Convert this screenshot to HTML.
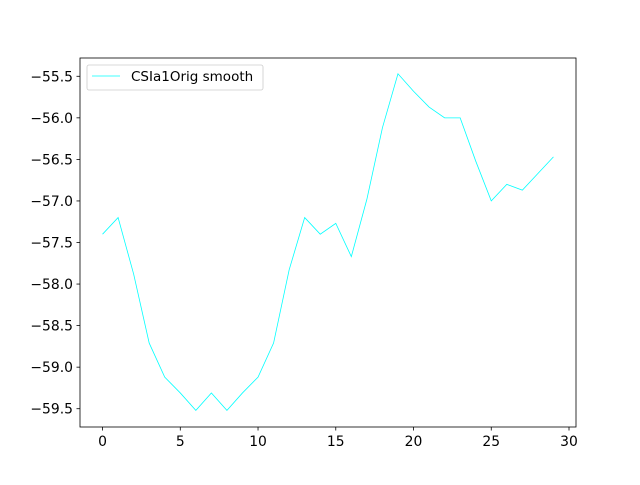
<!DOCTYPE html>
<html><head><meta charset="utf-8"><style>
body{margin:0;background:#fff;}
svg text{font-family:"DejaVu Sans","Liberation Sans",sans-serif;font-size:13.9px;fill:#000;}
</style></head><body>
<svg id="chart" width="640" height="480">
<rect x="80" y="58" width="496" height="369" fill="#fff" stroke="#000" stroke-width="0.8"/>
<g id="ticks"></g>
<polyline id="line" fill="none" stroke="#00ffff" stroke-width="0.8"/>
<g>
<rect x="87" y="65" width="176" height="25" rx="2" fill="#fff" stroke="#ccc" stroke-width="0.8"/>
<line x1="92" y1="76" x2="120" y2="76" stroke="#00ffff" stroke-width="0.8"/>
<text x="131" y="81" style="font-size:13.5px">CSIa1Orig smooth</text>
</g>
</svg>
<script>
const xValues=[0,1,2,3,4,5,6,7,8,9,10,11,12,13,14,15,16,17,18,19,20,21,22,23,24,25,26,27,28,29];
const yValues=[-57.4,-57.2,-57.88,-58.71,-59.12,-59.31,-59.52,-59.31,-59.52,-59.31,-59.12,-58.71,-57.83,-57.2,-57.4,-57.27,-57.67,-56.98,-56.12,-55.47,-55.68,-55.87,-56.0,-56.0,-56.52,-57.0,-56.8,-56.87,-56.67,-56.47];
const xTicks=[0,5,10,15,20,25,30];
const yTicks=[-55.5,-56.0,-56.5,-57.0,-57.5,-58.0,-58.5,-59.0,-59.5];
const X0=80,X1=576,Y0=58,Y1=427;
const xmin=-1.45,xmax=30.45,ymin=-59.72,ymax=-55.28;
const sx=v=>X0+(v-xmin)/(xmax-xmin)*(X1-X0);
const sy=v=>Y1-(v-ymin)/(ymax-ymin)*(Y1-Y0);
const NS="http://www.w3.org/2000/svg";
const g=document.getElementById('ticks');
function mk(t,a){const e=document.createElementNS(NS,t);for(const k in a)e.setAttribute(k,a[k]);g.appendChild(e);return e;}
xTicks.forEach(v=>{const x=sx(v);
const l=mk('line',{x1:x,y1:Y1,x2:x,y2:Y1+3.5,stroke:'#000','stroke-width':0.8});


const t=mk('text',{x:x,y:Y1+19,'text-anchor':'middle'});t.textContent=v;

});
yTicks.forEach(v=>{const y=sy(v);
const l=mk('line',{x1:X0-3.5,y1:y,x2:X0,y2:y,stroke:'#000','stroke-width':0.8});


const t=mk('text',{x:X0-7,y:y+5,'text-anchor':'end'});t.textContent=v.toFixed(1).replace('-','\u2212');

});
document.getElementById('line').setAttribute('points',xValues.map((x,i)=>sx(x)+','+sy(yValues[i])).join(' '));
</script>
</body></html>
